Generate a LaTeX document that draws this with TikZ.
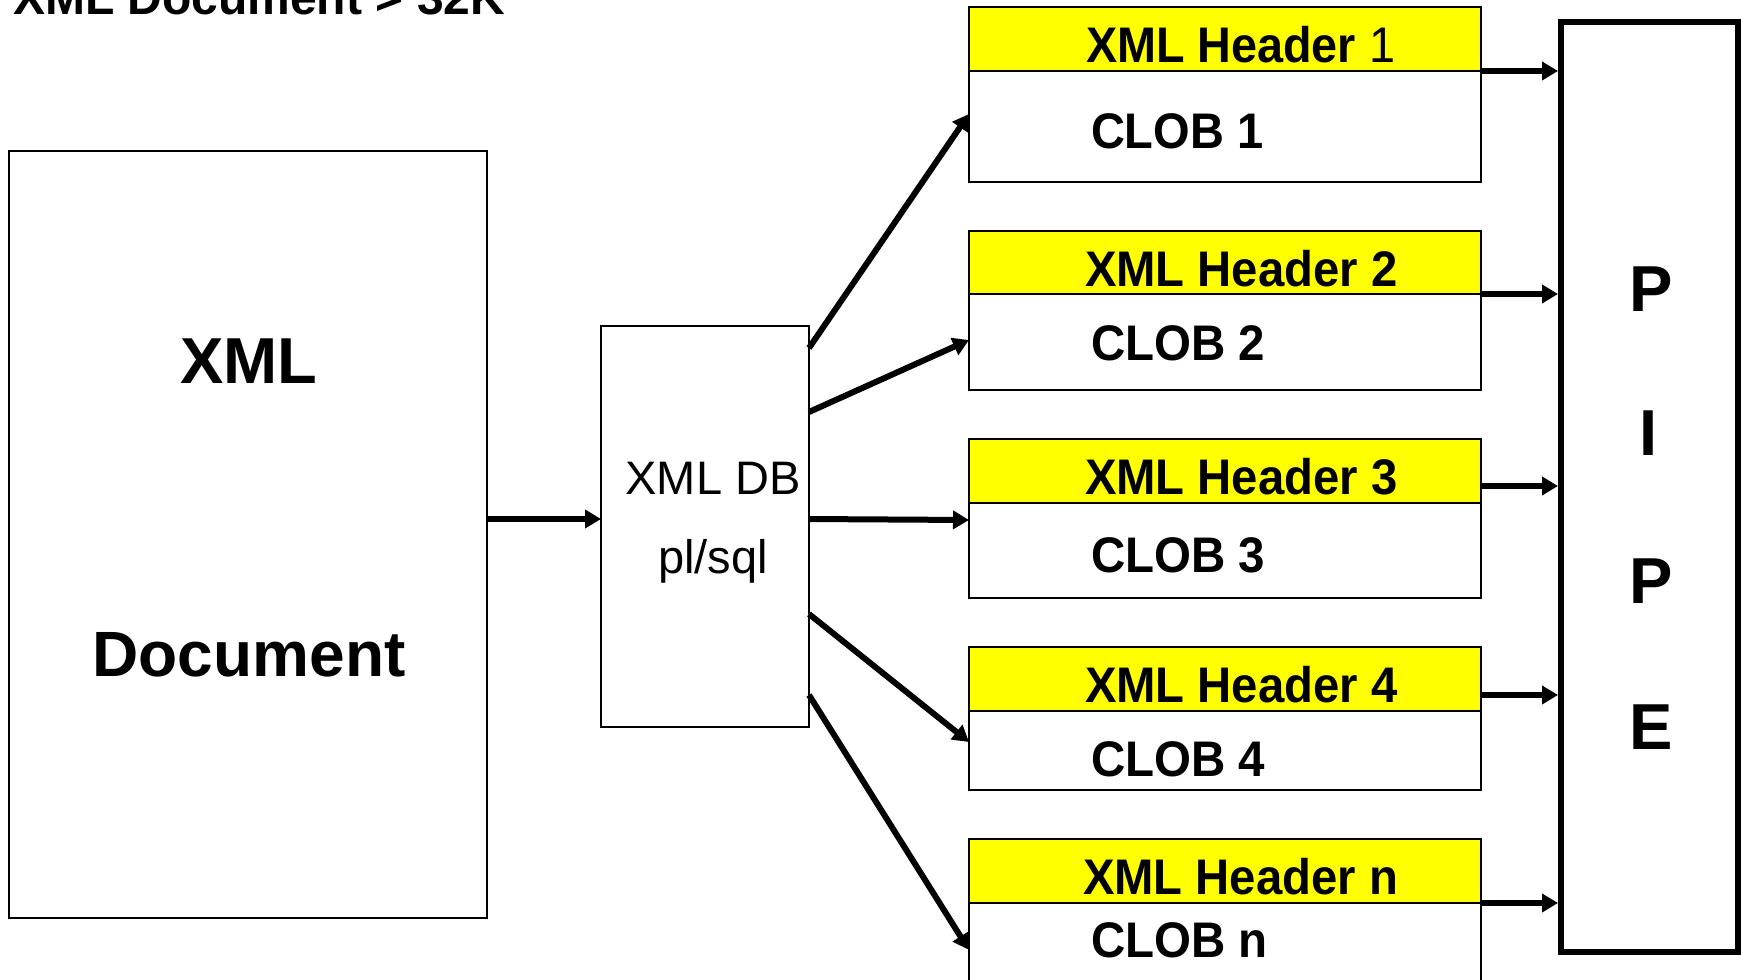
\documentclass[tikz,border=0pt]{standalone}
\usepackage{fontspec}
\setmainfont{Liberation Sans}
\usetikzlibrary{arrows.meta}
\begin{document}
\begin{tikzpicture}[x=1pt,y=-1pt,
  thinbox/.style={draw, line width=2.8pt, inner sep=0pt, outer sep=0pt},
  hdrbox/.style={thinbox, fill={rgb,255:red,255;green,255;blue,0}, minimum width=512pt},
  clobbox/.style={thinbox, fill=white, minimum width=512pt},
  arr/.style={line width=6pt, -{Triangle[length=16pt,width=18pt]}},
  lbl/.style={inner sep=0pt, outer sep=0pt},
  hdrtxt/.style={lbl, anchor=base west, font=\fontsize{50}{55}\selectfont\bfseries},
  clobtxt/.style={lbl, anchor=base west, font=\fontsize{50}{55}\selectfont\bfseries},
  pipetxt/.style={lbl, anchor=base, font=\fontsize{65}{70}\selectfont\bfseries}
]
\path[use as bounding box] (0,0) rectangle (1741,980);

% title
\node[lbl, anchor=base west, font=\fontsize{48}{52}\selectfont\bfseries] (title) at (13,14) {XML Document > 32K};

% big document box
\node[thinbox, minimum width=478pt, minimum height=767pt] (doc) at (248,534.5) {};
\node[lbl, anchor=base, font=\fontsize{65}{70}\selectfont\bfseries] (docA) at (249,383) {XML};
\node[lbl, anchor=base, font=\fontsize{64}{70}\selectfont\bfseries] (docB) at (249,676) {Document};

% XML DB box
\node[thinbox, minimum width=208pt, minimum height=401pt] (db) at (705,526.5) {};
\node[lbl, anchor=base, font=\fontsize{47}{52}\selectfont] (dbA) at (713,494) {XML DB};
\node[lbl, anchor=base, font=\fontsize{47}{52}\selectfont] (dbB) at (713,573) {pl/sql};

% header / clob boxes
\node[hdrbox, minimum height=64pt] (h1) at (1225,39) {};
\node[clobbox, minimum height=111pt] (c1) at (1225,126.5) {};
\node[hdrbox, minimum height=63pt] (h2) at (1225,262.5) {};
\node[clobbox, minimum height=96pt] (c2) at (1225,342) {};
\node[hdrbox, minimum height=64pt] (h3) at (1225,471) {};
\node[clobbox, minimum height=95pt] (c3) at (1225,550.5) {};
\node[hdrbox, minimum height=64pt] (h4) at (1225,679) {};
\node[clobbox, minimum height=79pt] (c4) at (1225,750.5) {};
\node[hdrbox, minimum height=64pt] (hn) at (1225,871) {};
\node[clobbox, minimum height=100pt] (cn) at (1225,953) {};

\node[hdrtxt] (t1) at (1086,62) {\scalebox{0.935}[1]{XML Header \mdseries 1}};
\node[hdrtxt] (t2) at (1085,286) {\scalebox{0.945}[1]{XML Header 2}};
\node[hdrtxt] (t3) at (1085,494) {\scalebox{0.945}[1]{XML Header 3}};
\node[hdrtxt] (t4) at (1085,702) {\scalebox{0.945}[1]{XML Header 4}};
\node[hdrtxt] (tn) at (1083,894) {\scalebox{0.945}[1]{XML Header n}};

\node[clobtxt] (l1) at (1091,148) {\scalebox{0.94}[1]{CLOB 1}};
\node[clobtxt] (l2) at (1091,360) {\scalebox{0.95}[1]{CLOB 2}};
\node[clobtxt] (l3) at (1091,572) {\scalebox{0.95}[1]{CLOB 3}};
\node[clobtxt] (l4) at (1091,776) {\scalebox{0.95}[1]{CLOB 4}};
\node[clobtxt] (ln) at (1091,957) {\scalebox{0.95}[1]{CLOB n}};

% pipe
\node[draw, line width=6pt, inner sep=0pt, minimum width=177pt, minimum height=930pt] (pipe) at (1649.5,487) {};
\node[pipetxt] (p1) at (1651,311) {P};
\node[pipetxt] (p2) at (1649,455) {I};
\node[pipetxt] (p3) at (1651,603) {P};
\node[pipetxt] (p4) at (1651,749) {E};

% arrows
\draw[arr] (doc.east |- 0,519) -- (db.west |- 0,519);
\draw[arr] (db.east |- 0,348) -- (c1.west |- 0,114);
\draw[arr] (db.east |- 0,412) -- (c2.west |- 0,340);
\draw[arr] (db.east |- 0,519) -- (c3.west |- 0,520);
\draw[arr] (db.east |- 0,614) -- (c4.west |- 0,742);
\draw[arr] (db.east |- 0,695) -- (cn.west |- 0,950);

\draw[arr] (h1.east |- 0,71) -- (pipe.west |- 0,71);
\draw[arr] (h2.east |- 0,294) -- (pipe.west |- 0,294);
\draw[arr] (h3.east |- 0,486) -- (pipe.west |- 0,486);
\draw[arr] (h4.east |- 0,695) -- (pipe.west |- 0,695);
\draw[arr] (hn.east |- 0,903) -- (pipe.west |- 0,903);
\end{tikzpicture}
\end{document}
